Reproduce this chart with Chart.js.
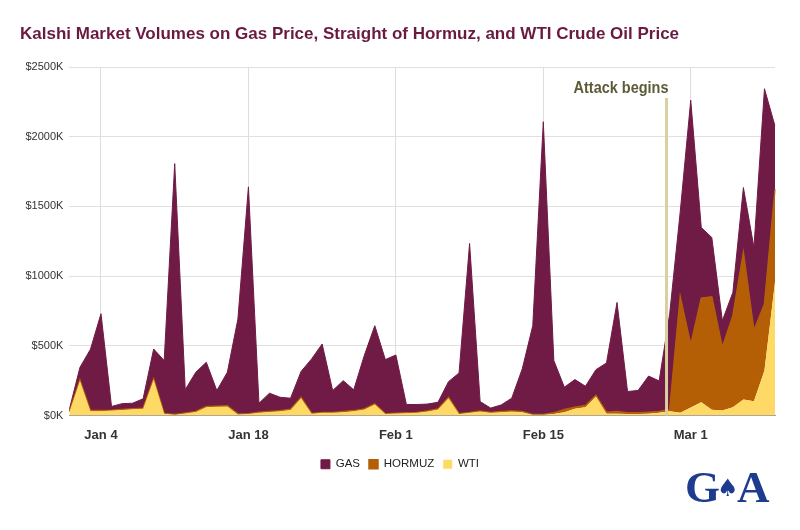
<!DOCTYPE html>
<html>
<head>
<meta charset="utf-8">
<script src="https://cdn.jsdelivr.net/npm/chart.js@4/dist/chart.umd.min.js"></script>
<style>
	body { margin:0; background:#fff; }
	#wrap { width:800px; height:530px; }
</style>
</head>
<body>
<div id="wrap"><canvas id="chart" width="800" height="530"></canvas></div>
<script>
// one label per day, Jan 1 .. Mar 9
var days = [
	'Jan 1','Jan 2','Jan 3','Jan 4','Jan 5','Jan 6','Jan 7','Jan 8','Jan 9','Jan 10',
	'Jan 11','Jan 12','Jan 13','Jan 14','Jan 15','Jan 16','Jan 17','Jan 18','Jan 19','Jan 20',
	'Jan 21','Jan 22','Jan 23','Jan 24','Jan 25','Jan 26','Jan 27','Jan 28','Jan 29','Jan 30',
	'Jan 31','Feb 1','Feb 2','Feb 3','Feb 4','Feb 5','Feb 6','Feb 7','Feb 8','Feb 9',
	'Feb 10','Feb 11','Feb 12','Feb 13','Feb 14','Feb 15','Feb 16','Feb 17','Feb 18','Feb 19',
	'Feb 20','Feb 21','Feb 22','Feb 23','Feb 24','Feb 25','Feb 26','Feb 27','Feb 28','Mar 1',
	'Mar 2','Mar 3','Mar 4','Mar 5','Mar 6','Mar 7','Mar 8','Mar 9'
];
var shownTicks = ['Jan 4','Jan 18','Feb 1','Feb 15','Mar 1'];

// daily volume, $K (stacked: WTI at the bottom, then HORMUZ, then GAS)
var wti = [
	25,250,31,31,35,40,45,48,258,12,
	5,15,25,60,62,65,8,10,20,25,
	30,40,124,12,19,19,24,31,43,79,
	10,14,17,19,29,43,124,10,19,29,
	19,24,29,24,5,5,10,24,48,60,
	136,12,12,10,10,12,19,31,19,58,
	95,41,36,60,115,103,322,955
];
var hormuz = [
	3,4,4,4,3,3,4,4,5,3,
	3,3,4,4,4,4,3,3,3,4,
	4,4,5,3,3,3,4,4,4,5,
	3,3,3,3,4,4,5,3,3,4,
	3,4,4,4,3,3,9,19,12,12,
	8,12,17,9,9,12,10,12,833,450,
	747,811,453,656,1054,506,478,668
];
var gas = [
	17,91,440,695,27,42,39,68,214,379,
	1799,167,281,318,113,241,681,1627,65,131,
	97,80,187,391,491,157,222,149,383,560,
	388,417,59,57,49,48,114,292,1212,67,
	31,48,91,306,636,2099,375,160,198,138,
	185,353,782,153,161,259,219,687,608,1754,
	506,425,191,167,466,596,1544,453
];

var yTicks = [0,500,1000,1500,2000,2500];
var attackAt = 56.7;	// day index where the marker stands

var titleText = 'Kalshi Market Volumes on Gas Price, Straight of Hormuz, and WTI Crude Oil Price';

var extras =
	{
		id:'extras',
		afterDatasetsDraw:function(chart)
		{
			var ctx = chart.ctx;
			var xs = chart.scales.x;
			var a = xs.getPixelForValue(Math.floor(attackAt));
			var b = xs.getPixelForValue(Math.floor(attackAt)+1);
			var x = a + (b-a)*(attackAt-Math.floor(attackAt));
			ctx.save();
			ctx.strokeStyle = '#d9cf9f';
			ctx.lineWidth = 3;
			ctx.beginPath();
			ctx.moveTo(x, 98);
			ctx.lineTo(x, chart.chartArea.bottom);
			ctx.stroke();
			ctx.fillStyle = '#5c5a37';
			ctx.font = 'bold 16px "Liberation Sans", Arial, sans-serif';
			ctx.textAlign = 'right';
			ctx.textBaseline = 'alphabetic';
			ctx.fillText('Attack begins', x+2, 93, 95);
			ctx.restore();
		},
		afterDraw:function(chart)
		{
			var ctx = chart.ctx;
			ctx.save();
			ctx.fillStyle = '#6a1a42';
			ctx.font = 'bold 17px "Liberation Sans", Arial, sans-serif';
			ctx.textAlign = 'left';
			ctx.textBaseline = 'alphabetic';
			ctx.fillText(titleText, 20, 39, 662);

			// logo
			ctx.fillStyle = '#1d3c8f';
			ctx.font = 'bold 45px "Liberation Serif", "DejaVu Serif", serif';
			ctx.fillText('G', 685, 502);
			ctx.fillText('A', 737, 502);
			ctx.font = 'bold 24px "DejaVu Sans", sans-serif';
			ctx.fillText('\u2660', 717, 496);
			ctx.restore();
		}
	};

var chart = new Chart
(
	document.getElementById('chart').getContext('2d'),
	{
		type:'line',
		data:{
			labels:days,
			datasets:[
				{ label:'WTI', data:wti, backgroundColor:'#ffd966', borderColor:'#ffd966', borderWidth:0, fill:'origin' },
				{ label:'HORMUZ', data:hormuz, backgroundColor:'#b45f06', borderColor:'#b45f06', borderWidth:1.5, fill:'-1' },
				{ label:'GAS', data:gas, backgroundColor:'#701b45', borderColor:'#701b45', borderWidth:1, fill:'-1' }
			]
		},
		options:{
			responsive:false,
			animation:false,
			devicePixelRatio:1,
			elements:{ line:{ tension:0 }, point:{ radius:0 } },
			layout:{ padding:{ left:25, right:25, top:67, bottom:50 } },
			plugins:{
				tooltip:{ enabled:false },
				legend:{
					position:'bottom',
					labels:{
						boxWidth:9, boxHeight:9, padding:9,
						color:'#222',
						font:{ family:'"Liberation Sans", Arial, sans-serif', size:11.5 },
						sort:function(a,b){ return b.datasetIndex - a.datasetIndex; }
					}
				}
			},
			scales:{
				x:{
					offset:false,
					grid:{
						drawTicks:false,
						color:function(c){ return c.tick && shownTicks.indexOf(days[c.tick.value]) >= 0 ? '#dedede' : 'rgba(0,0,0,0)'; }
					},
					border:{ color:'#a0a0a0' },
					ticks:{
						autoSkip:false, maxRotation:0, padding:12,
						color:'#333',
						font:{ family:'"Liberation Sans", Arial, sans-serif', size:13, weight:'bold' },
						callback:function(v){ var l = days[v]; return shownTicks.indexOf(l) >= 0 ? l : ''; }
					},
					afterFit:function(s){ s.height = 34; }
				},
				y:{
					stacked:true,
					min:0, max:2500,
					afterBuildTicks:function(s){ s.ticks = yTicks.map(function(v){ return { value:v }; }); },
					grid:{ drawTicks:false, color:'#e0e0e0' },
					border:{ display:false },
					ticks:{
						padding:6,
						color:'#333',
						font:{ family:'"Liberation Sans", Arial, sans-serif', size:11 },
						callback:function(v){ return '$' + v + 'K'; }
					},
					afterFit:function(s){ s.width = 44.4; }
				}
			}
		},
		plugins:[extras]
	}
);
</script>
</body>
</html>
